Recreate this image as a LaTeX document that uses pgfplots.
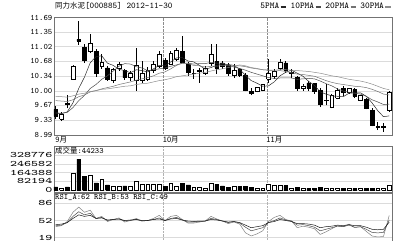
\documentclass[border=0pt]{standalone}
\usepackage{fontspec}
\newfontfamily\cjk{Noto Sans CJK SC}
\usepackage{graphicx}
\usepackage{pgfplots}
\usepackage{pgfplotstable}
\pgfplotsset{compat=1.18}

\pgfplotstableread{
x o h l c v
0 9.58 9.65 9.35 9.42 30000
1 9.35 9.51 9.31 9.47 20000
2 9.72 9.90 9.60 9.69 30000
3 10.28 10.60 10.26 10.58 160000
4 11.19 11.60 11.06 11.15 290000
5 11.01 11.08 10.65 10.71 130000
6 10.92 11.30 10.87 11.10 140000
7 10.92 10.96 10.33 10.42 68000
8 10.56 10.85 10.51 10.67 100000
9 10.53 10.58 10.24 10.28 47000
10 10.24 10.53 10.19 10.49 38000
11 10.53 10.67 10.47 10.62 38000
12 10.47 10.51 10.26 10.31 38000
13 10.31 10.47 10.24 10.42 38000
14 10.24 10.99 10.01 10.60 85000
15 10.24 10.69 10.19 10.42 55000
16 10.28 10.56 10.24 10.47 55000
17 10.47 10.69 10.42 10.62 55000
18 10.58 10.92 10.53 10.85 55000
19 10.71 10.76 10.49 10.53 33000
20 10.62 10.92 10.60 10.87 68000
21 10.74 10.99 10.69 10.94 38000
22 10.92 11.26 10.65 10.67 62000
23 10.62 10.67 10.35 10.44 47000
24 10.40 10.51 10.28 10.41 23000
25 10.46 10.53 10.19 10.47 23000
26 10.42 10.58 10.37 10.53 16000
27 10.65 11.08 10.58 10.85 62000
28 10.69 11.08 10.40 10.53 52000
29 10.65 10.69 10.51 10.56 38000
30 10.60 10.65 10.35 10.40 23000
31 10.37 10.62 10.31 10.47 33000
32 10.49 10.53 10.33 10.37 33000
33 10.37 10.42 9.99 10.01 33000
34 9.99 10.06 9.90 9.96 23000
35 9.99 10.10 9.97 10.08 16000
36 10.01 10.17 9.99 10.15 16000
37 10.28 10.74 10.19 10.40 52000
38 10.33 10.51 10.28 10.46 47000
39 10.53 10.74 10.49 10.67 47000
40 10.65 10.69 10.42 10.47 42000
41 10.40 10.51 10.31 10.44 16000
42 10.31 10.35 10.01 10.06 23000
43 10.06 10.17 10.01 10.12 16000
44 10.19 10.24 10.01 10.06 16000
45 10.17 10.19 9.94 9.99 16000
46 10.01 10.06 9.63 9.69 23000
47 9.78 10.17 9.67 9.80 16000
48 9.63 9.94 9.60 9.90 12000
49 9.83 10.06 9.81 10.01 12000
50 10.06 10.12 9.88 9.97 12000
51 9.97 10.08 9.94 10.06 12000
52 10.03 10.06 9.85 9.88 12000
53 9.78 9.92 9.76 9.90 12000
54 9.81 9.85 9.58 9.60 12000
55 9.56 9.60 9.19 9.22 14000
56 9.16 9.28 9.10 9.18 12000
57 9.16 9.26 9.06 9.18 12000
58 9.56 9.99 9.53 9.97 44233
}\candles

\pgfplotstableread{
x ma5 ma10 ma20 ma30
0 9.48 9.50 9.78 9.88
1 9.48 9.49 9.77 9.87
2 9.52 9.51 9.76 9.86
3 9.73 9.62 9.80 9.89
4 10.06 9.78 9.87 9.93
5 10.32 9.90 9.91 9.95
6 10.65 10.06 9.98 9.99
7 10.79 10.15 10.01 10.01
8 10.81 10.27 10.05 10.04
9 10.64 10.35 10.08 10.05
10 10.59 10.46 10.11 10.07
11 10.50 10.57 10.15 10.09
12 10.47 10.63 10.18 10.11
13 10.42 10.62 10.21 10.12
14 10.49 10.56 10.25 10.15
15 10.47 10.53 10.28 10.17
16 10.44 10.47 10.31 10.18
17 10.51 10.49 10.35 10.21
18 10.59 10.51 10.41 10.24
19 10.58 10.53 10.44 10.26
20 10.67 10.57 10.51 10.29
21 10.76 10.60 10.59 10.33
22 10.77 10.64 10.64 10.35
23 10.69 10.64 10.63 10.37
24 10.67 10.62 10.59 10.39
25 10.59 10.63 10.58 10.41
26 10.50 10.63 10.55 10.43
27 10.54 10.66 10.57 10.46
28 10.59 10.64 10.57 10.49
29 10.62 10.64 10.59 10.51
30 10.61 10.60 10.58 10.54
31 10.59 10.55 10.58 10.57
32 10.50 10.52 10.58 10.60
33 10.36 10.48 10.56 10.58
34 10.24 10.43 10.53 10.54
35 10.18 10.39 10.51 10.52
36 10.11 10.35 10.49 10.49
37 10.12 10.31 10.48 10.48
38 10.21 10.29 10.46 10.48
39 10.35 10.30 10.47 10.49
40 10.43 10.30 10.45 10.49
41 10.48 10.30 10.42 10.48
42 10.41 10.27 10.39 10.47
43 10.34 10.28 10.38 10.46
44 10.22 10.29 10.36 10.45
45 10.13 10.28 10.34 10.43
46 9.98 10.23 10.29 10.41
47 9.93 10.17 10.24 10.38
48 9.89 10.12 10.20 10.35
49 9.88 10.05 10.17 10.33
50 9.87 10.00 10.15 10.30
51 9.95 9.97 10.13 10.27
52 9.96 9.95 10.11 10.25
53 9.96 9.93 10.10 10.23
54 9.88 9.88 10.08 10.20
55 9.73 9.80 10.04 10.16
56 9.55 9.75 9.99 10.11
57 9.41 9.69 9.93 10.06
58 9.43 9.70 9.91 10.03
}\mas

\pgfplotstableread{
x a b c
0 40 42 44
1 42 43 45
2 50 48 48
3 68 60 56
4 78 69 63
5 68 63 60
6 72 66 62
7 56 56 56
8 60 58 57
9 50 52 53
10 54 54 54
11 57 55 55
12 49 51 52
13 52 52 53
14 56 54 54
15 51 51 52
16 52 52 52
17 56 54 54
18 62 57 55
19 52 52 52
20 60 56 55
21 62 58 56
22 54 53 53
23 47 49 51
24 47 49 50
25 49 50 51
26 51 51 51
27 60 56 54
28 55 54 53
29 51 51 51
30 46 48 49
31 49 50 50
32 45 47 48
33 28 39 43
34 22 32 38
35 26 35 40
36 32 38 42
37 50 48 48
38 58 52 50
39 62 57 54
40 54 53 52
41 51 51 50
42 38 43 46
43 41 44 46
44 39 42 45
45 36 39 43
46 25 32 38
47 30 35 40
48 36 38 41
49 42 41 43
50 40 40 42
51 45 43 44
52 38 39 42
53 40 40 42
54 31 35 39
55 22 29 35
56 20 28 34
57 21 29 35
58 62 53 49
}\rsi

\newcommand\wide[1]{\scalebox{1.6}[1]{#1}}

\pgfplotsset{
  panel/.style={
    scale only axis, width=338bp,
    xmin=-0.3, xmax=58.48,
    axis line style={black!55, line width=0.5pt},
    tick style={draw=none},
    yticklabel style={font=\ttfamily\fontsize{8.3}{8.3}\selectfont, inner sep=1.5bp},
    ymajorgrids, grid style={black!14, line width=0.4pt},
    scaled ticks=false,
  },
}

\begin{document}
\begin{tikzpicture}
\useasboundingbox (-54bp,-241bp) rectangle (340bp,0bp);

% ---------------- price panel
\begin{axis}[panel, at={(0bp,-135bp)}, anchor=south west, height=117.5bp,
  ymin=8.99, ymax=11.69,
  ytick={8.99,9.33,9.67,10.00,10.34,10.68,11.02,11.35,11.69},
  yticklabels={8.99,9.33,9.67,10.00,10.34,10.68,11.02,11.35,11.69},
  xtick={0,18.7,36.7}, xticklabels={9月,10月,11月},
  xticklabel style={anchor=north west, font=\cjk\fontsize{7.5}{7.5}\selectfont, inner sep=1bp, xshift=-1.5bp},
]
\addplot[forget plot, densely dotted, black!45] coordinates {(18.7,8.99) (18.7,11.69)};
\addplot[forget plot, densely dotted, black!45] coordinates {(36.7,8.99) (36.7,11.69)};
\pgfplotsforeachungrouped \r in {0,...,58}{%
  \pgfplotstablegetelem{\r}{o}\of\candles\let\candO\pgfplotsretval
  \pgfplotstablegetelem{\r}{h}\of\candles\let\candH\pgfplotsretval
  \pgfplotstablegetelem{\r}{l}\of\candles\let\candL\pgfplotsretval
  \pgfplotstablegetelem{\r}{c}\of\candles\let\candC\pgfplotsretval
  \pgfplotstablegetelem{\r}{x}\of\candles\let\candX\pgfplotsretval
  \pgfmathsetmacro\candXl{\candX-0.34}%
  \pgfmathsetmacro\candXr{\candX+0.34}%
  \ifdim\candC pt<\candO pt \def\candF{black}\else\def\candF{white}\fi
  \edef\next{%
    \noexpand\addplot[forget plot, black, line width=0.5pt] coordinates {(\candX,\candL) (\candX,\candH)};
    \noexpand\addplot[forget plot, draw=black, fill=\candF, line width=0.5pt] coordinates {(\candXl,\candO) (\candXr,\candO) (\candXr,\candC) (\candXl,\candC) (\candXl,\candO)};
  }\next
}
\addplot[forget plot, black!85, line width=0.5pt] table[x=x,y=ma5]{\mas};
\addplot[forget plot, black!70, line width=0.5pt] table[x=x,y=ma10]{\mas};
\addplot[forget plot, black!55, line width=0.5pt] table[x=x,y=ma20]{\mas};
\addplot[forget plot, black!45, line width=0.5pt] table[x=x,y=ma30]{\mas};
\end{axis}

% ---------------- volume panel
\begin{axis}[panel, at={(0bp,-192.5bp)}, anchor=south west, height=46bp,
  ymin=-23485, ymax=408600,
  ytick={0,82194,164388,246582,328776},
  yticklabels={\wide{0},\wide{82194},\wide{164388},\wide{246582},\wide{328776}},
  xtick=\empty,
]
\addplot[forget plot, densely dotted, black!30] coordinates {(18.7,-23485) (18.7,408600)};
\addplot[forget plot, densely dotted, black!30] coordinates {(36.7,-23485) (36.7,408600)};
\pgfplotsforeachungrouped \r in {0,...,58}{%
  \pgfplotstablegetelem{\r}{o}\of\candles\let\candO\pgfplotsretval
  \pgfplotstablegetelem{\r}{c}\of\candles\let\candC\pgfplotsretval
  \pgfplotstablegetelem{\r}{v}\of\candles\let\candV\pgfplotsretval
  \pgfplotstablegetelem{\r}{x}\of\candles\let\candX\pgfplotsretval
  \pgfmathsetmacro\candXl{\candX-0.34}%
  \pgfmathsetmacro\candXr{\candX+0.34}%
  \ifdim\candC pt<\candO pt \def\candF{black}\else\def\candF{white}\fi
  \edef\next{%
    \noexpand\addplot[forget plot, draw=black, fill=\candF, line width=0.5pt] coordinates {(\candXl,0) (\candXr,0) (\candXr,\candV) (\candXl,\candV) (\candXl,0)};
  }\next
}
\end{axis}

% ---------------- RSI panel
\begin{axis}[panel, at={(0bp,-241bp)}, anchor=south west, height=48bp,
  ymin=12.2, ymax=105.4,
  ytick={19,52,86}, yticklabels={\wide{19},\wide{52},\wide{86}},
  xtick=\empty,
]
\addplot[forget plot, densely dotted, black!30] coordinates {(18.7,12.2) (18.7,105.4)};
\addplot[forget plot, densely dotted, black!30] coordinates {(36.7,12.2) (36.7,105.4)};
\addplot[forget plot, black!50, line width=0.5pt] table[x=x,y=a]{\rsi};
\addplot[forget plot, black!70, line width=0.5pt] table[x=x,y=b]{\rsi};
\addplot[forget plot, black!90, line width=0.5pt] table[x=x,y=c]{\rsi};
\end{axis}

% ---------------- texts
\node[anchor=west, inner sep=0] at (1bp,-6bp) {{\cjk\fontsize{7.5}{7.5}\selectfont 同力水泥}{\ttfamily\fontsize{8.8}{8.8}\selectfont[000885] 2012-11-30}};
\node[anchor=east, inner sep=0] at (337bp,-6bp) {\ttfamily\fontsize{9}{9}\selectfont
  5PMA\,\textcolor{black!85}{\rule[0.25ex]{0.6em}{1.5pt}}\enspace
  10PMA\,\textcolor{black!70}{\rule[0.25ex]{0.6em}{1.5pt}}\enspace
  20PMA\,\textcolor{black!55}{\rule[0.25ex]{0.6em}{1.5pt}}\enspace
  30PMA\,\textcolor{black!45}{\rule[0.25ex]{0.6em}{1.5pt}}};
\node[anchor=west, inner sep=0] at (1bp,-150.5bp) {{\cjk\fontsize{7.5}{7.5}\selectfont 成交量}{\ttfamily\fontsize{8.2}{8.2}\selectfont:44233}};
\node[anchor=west, inner sep=0] at (1bp,-197.5bp) {\ttfamily\fontsize{8.2}{8.2}\selectfont RSI\_A:62 RSI\_B:53 RSI\_C:49};
\end{tikzpicture}
\end{document}
